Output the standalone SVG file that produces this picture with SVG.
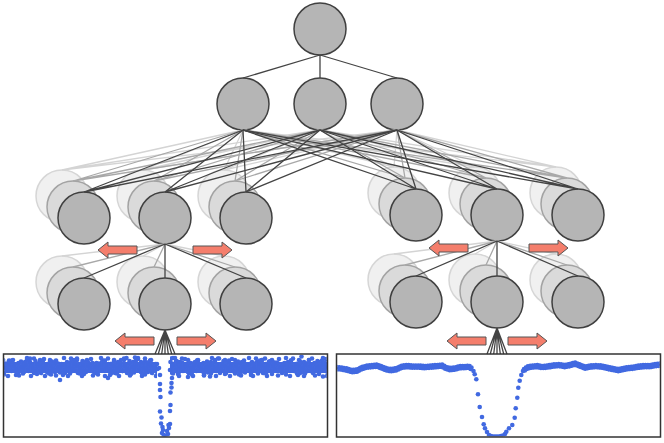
<svg xmlns="http://www.w3.org/2000/svg" width="664" height="443" viewBox="0 0 664 443">
<style>
.n{fill:#b5b5b5;stroke:#404040;stroke-width:1.5}
.m{fill:#dadada;stroke:#a3a3a3;stroke-width:1.5}
.b{fill:#f0f0f0;stroke:#d6d6d6;stroke-width:1.5}
.cf{fill:none;stroke:#444;stroke-width:1.3}
.cm{fill:none;stroke:#a8a8a8;stroke-width:1.3}
.cb{fill:none;stroke:#d4d4d4;stroke-width:1.3}
.arr{fill:#f47e6c;stroke:#555;stroke-width:1}
.frame{fill:none;stroke:#333;stroke-width:1.5}
.pt{fill:#4169e1}
.ln{fill:none;stroke:#4169e1;stroke-width:4.6;stroke-linecap:round;stroke-dasharray:0 2.4}
</style>
<defs>
<path id="arrL" class="arr" d="M0,0 L10,-8 L10,-4 L39,-4 L39,4 L10,4 L10,8 Z"/>
<path id="arrR" class="arr" d="M0,-4 L29,-4 L29,-8 L39,0 L29,8 L29,4 L0,4 Z"/>
<pattern id="pA" patternUnits="userSpaceOnUse" x="0" y="354" width="31" height="27">
<g class="pt">
<circle cx="0.5" cy="12" r="2.3"/><circle cx="31.5" cy="12" r="2.3"/><circle cx="1.5" cy="16" r="2.3"/><circle cx="32.5" cy="16" r="2.3"/>
<circle cx="4" cy="10" r="2.3"/><circle cx="5.5" cy="13" r="2.3"/><circle cx="7" cy="16" r="2.3"/><circle cx="8.5" cy="11" r="2.3"/>
<circle cx="10" cy="13.5" r="2.3"/><circle cx="11.5" cy="9" r="2.3"/><circle cx="13" cy="15" r="2.3"/><circle cx="14.5" cy="12" r="2.3"/>
<circle cx="16" cy="17" r="2.3"/><circle cx="17.5" cy="10" r="2.3"/><circle cx="19" cy="13" r="2.3"/><circle cx="20.5" cy="15" r="2.3"/>
<circle cx="22" cy="11" r="2.3"/><circle cx="23.5" cy="14" r="2.3"/><circle cx="25" cy="8" r="2.3"/><circle cx="26.5" cy="12" r="2.3"/>
<circle cx="28" cy="16" r="2.3"/><circle cx="29.5" cy="13" r="2.3"/><circle cx="-1.5" cy="13" r="2.3"/><circle cx="3" cy="19" r="2.3"/>
<circle cx="12" cy="6.5" r="2.3"/><circle cx="18" cy="19.5" r="2.3"/><circle cx="24" cy="18" r="2.3"/><circle cx="9" cy="8" r="2.3"/>
<circle cx="27" cy="9.5" r="2.3"/><circle cx="15" cy="13" r="2.3"/><circle cx="21" cy="7.5" r="2.3"/><circle cx="6" cy="9.5" r="2.3"/>
</g>
</pattern>
<pattern id="pB" patternUnits="userSpaceOnUse" x="11" y="354" width="47" height="27">
<g class="pt">
<circle cx="1" cy="13" r="2.3"/><circle cx="48" cy="13" r="2.3"/><circle cx="3.5" cy="10" r="2.3"/><circle cx="6" cy="16" r="2.3"/>
<circle cx="8" cy="12" r="2.3"/><circle cx="10.5" cy="14.5" r="2.3"/><circle cx="13" cy="9.5" r="2.3"/><circle cx="15" cy="12.5" r="2.3"/>
<circle cx="17.5" cy="17" r="2.3"/><circle cx="20" cy="11" r="2.3"/><circle cx="22" cy="14" r="2.3"/><circle cx="24.5" cy="7" r="2.3"/>
<circle cx="27" cy="13" r="2.3"/><circle cx="29" cy="16.5" r="2.3"/><circle cx="31.5" cy="11" r="2.3"/><circle cx="34" cy="13" r="2.3"/>
<circle cx="36" cy="18" r="2.3"/><circle cx="38.5" cy="9" r="2.3"/><circle cx="41" cy="14" r="2.3"/><circle cx="43.5" cy="11.5" r="2.3"/>
<circle cx="46" cy="15.5" r="2.3"/><circle cx="-1" cy="15.5" r="2.3"/><circle cx="5" cy="21" r="2.3"/><circle cx="19" cy="4.5" r="2.3"/>
<circle cx="33" cy="5" r="2.3"/><circle cx="40" cy="20.5" r="2.3"/><circle cx="12" cy="19.5" r="2.3"/><circle cx="26" cy="20" r="2.3"/>
<circle cx="45" cy="6.5" r="2.3"/><circle cx="-2" cy="6.5" r="2.3"/><circle cx="30" cy="8.5" r="2.3"/><circle cx="16" cy="6" r="2.3"/>
</g>
</pattern>
<pattern id="pC" patternUnits="userSpaceOnUse" x="5" y="354" width="37" height="27">
<g class="pt">
<circle cx="1" cy="14" r="2.3"/><circle cx="38" cy="14" r="2.3"/><circle cx="4" cy="11" r="2.3"/><circle cx="6.5" cy="17" r="2.3"/>
<circle cx="9" cy="12.5" r="2.3"/><circle cx="11" cy="15" r="2.3"/><circle cx="13.5" cy="9" r="2.3"/><circle cx="16" cy="13" r="2.3"/>
<circle cx="18" cy="18.5" r="2.3"/><circle cx="20.5" cy="11.5" r="2.3"/><circle cx="23" cy="15.5" r="2.3"/><circle cx="25" cy="8" r="2.3"/>
<circle cx="27.5" cy="13.5" r="2.3"/><circle cx="30" cy="17" r="2.3"/><circle cx="32" cy="10" r="2.3"/><circle cx="34.5" cy="12" r="2.3"/>
<circle cx="36" cy="19" r="2.3"/><circle cx="-1" cy="19" r="2.3"/><circle cx="3" cy="22" r="2.3"/><circle cx="14" cy="21.5" r="2.3"/>
<circle cx="22" cy="4" r="2.3"/><circle cx="29" cy="4.5" r="2.3"/><circle cx="8" cy="6" r="2.3"/><circle cx="35" cy="6" r="2.3"/>
<circle cx="-2" cy="6" r="2.3"/><circle cx="18" cy="14" r="2.3"/><circle cx="26" cy="22" r="2.3"/>
</g>
</pattern>
<clipPath id="clipL"><rect x="4.25" y="354.75" width="322.5" height="81.5"/></clipPath>
<clipPath id="clipR"><rect x="337.25" y="354.75" width="322.5" height="81.5"/></clipPath>
</defs>
<rect width="664" height="443" fill="#fff"/>

<!-- nodes -->
<g id="top"><circle class="n" cx="320" cy="29" r="26"/></g>
<g id="h1"><circle class="n" cx="243" cy="104" r="26"/></g>
<g id="h2"><circle class="n" cx="320" cy="104" r="26"/></g>
<g id="h3"><circle class="n" cx="397" cy="104" r="26"/></g>

<g id="a1"><circle class="b" cx="62" cy="196" r="26"/><circle class="m" cx="73" cy="207" r="26"/><circle class="n" cx="84" cy="218" r="26"/></g>
<g id="a2"><circle class="b" cx="143" cy="196" r="26"/><circle class="m" cx="154" cy="207" r="26"/><circle class="n" cx="165" cy="218" r="26"/></g>
<g id="a3"><circle class="b" cx="224" cy="196" r="26"/><circle class="m" cx="235" cy="207" r="26"/><circle class="n" cx="246" cy="218" r="26"/></g>
<g id="b1"><circle class="b" cx="394" cy="193" r="26"/><circle class="m" cx="405" cy="204" r="26"/><circle class="n" cx="416" cy="215" r="26"/></g>
<g id="b2"><circle class="b" cx="475" cy="193" r="26"/><circle class="m" cx="486" cy="204" r="26"/><circle class="n" cx="497" cy="215" r="26"/></g>
<g id="b3"><circle class="b" cx="556" cy="193" r="26"/><circle class="m" cx="567" cy="204" r="26"/><circle class="n" cx="578" cy="215" r="26"/></g>

<g id="c1"><circle class="b" cx="62" cy="282" r="26"/><circle class="m" cx="73" cy="293" r="26"/><circle class="n" cx="84" cy="304" r="26"/></g>
<g id="c2"><circle class="b" cx="143" cy="282" r="26"/><circle class="m" cx="154" cy="293" r="26"/><circle class="n" cx="165" cy="304" r="26"/></g>
<g id="c3"><circle class="b" cx="224" cy="282" r="26"/><circle class="m" cx="235" cy="293" r="26"/><circle class="n" cx="246" cy="304" r="26"/></g>
<g id="d1"><circle class="b" cx="394" cy="280" r="26"/><circle class="m" cx="405" cy="291" r="26"/><circle class="n" cx="416" cy="302" r="26"/></g>
<g id="d2"><circle class="b" cx="475" cy="280" r="26"/><circle class="m" cx="486" cy="291" r="26"/><circle class="n" cx="497" cy="302" r="26"/></g>
<g id="d3"><circle class="b" cx="556" cy="280" r="26"/><circle class="m" cx="567" cy="291" r="26"/><circle class="n" cx="578" cy="302" r="26"/></g>

<!-- connectors -->
<g id="connectors">
<path class="cf" d="M320,55L243,78M320,55L320,78M320,55L397,78"/>
<path class="cb" d="M243,130L62,170M320,130L62,170M397,130L62,170"/>
<path class="cb" d="M243,130L143,170M320,130L143,170M397,130L143,170"/>
<path class="cb" d="M243,130L224,170M320,130L224,170M397,130L224,170"/>
<path class="cb" d="M243,130L394,167M320,130L394,167M397,130L394,167"/>
<path class="cb" d="M243,130L475,167M320,130L475,167M397,130L475,167"/>
<path class="cb" d="M243,130L556,167M320,130L556,167M397,130L556,167"/>
<path class="cm" d="M243,130L73,181M320,130L73,181M397,130L73,181"/>
<path class="cm" d="M243,130L154,181M320,130L154,181M397,130L154,181"/>
<path class="cm" d="M243,130L235,181M320,130L235,181M397,130L235,181"/>
<path class="cm" d="M243,130L405,178M320,130L405,178M397,130L405,178"/>
<path class="cm" d="M243,130L486,178M320,130L486,178M397,130L486,178"/>
<path class="cm" d="M243,130L567,178M320,130L567,178M397,130L567,178"/>
<path class="cf" d="M243,130L84,192M320,130L84,192M397,130L84,192"/>
<path class="cf" d="M243,130L165,192M320,130L165,192M397,130L165,192"/>
<path class="cf" d="M243,130L246,192M320,130L246,192M397,130L246,192"/>
<path class="cf" d="M243,130L416,189M320,130L416,189M397,130L416,189"/>
<path class="cf" d="M243,130L497,189M320,130L497,189M397,130L497,189"/>
<path class="cf" d="M243,130L578,189M320,130L578,189M397,130L578,189"/>
<path class="cb" d="M165,244L62,256M165,244L143,256M165,244L224,256"/>
<path class="cm" d="M165,244L73,267M165,244L154,267M165,244L235,267"/>
<path class="cf" d="M165,244L84,278M165,244L165,278M165,244L246,278"/>
<path class="cb" d="M497,241L394,254M497,241L475,254M497,241L556,254"/>
<path class="cm" d="M497,241L405,265M497,241L486,265M497,241L567,265"/>
<path class="cf" d="M497,241L416,276M497,241L497,276M497,241L578,276"/>
<path class="cf" d="M165,330L155,354M165,330L158.3,354M165,330L161.7,354M165,330L165,354M165,330L168.3,354M165,330L171.7,354M165,330L175,354"/>
<path class="cf" d="M497,328L487,354M497,328L490.3,354M497,328L493.7,354M497,328L497,354M497,328L500.3,354M497,328L503.7,354M497,328L507,354"/>
</g>

<!-- arrows -->
<g id="arrows">
<use href="#arrL" x="98" y="250"/><use href="#arrR" x="193" y="250"/>
<use href="#arrL" x="429" y="248"/><use href="#arrR" x="529" y="248"/>
<use href="#arrL" x="115" y="341"/><use href="#arrR" x="177" y="341"/>
<use href="#arrL" x="447" y="341"/><use href="#arrR" x="508" y="341"/>
</g>

<!-- left plot -->
<g id="plotL">
<g clip-path="url(#clipL)">
<rect class="pt" x="4" y="362" width="153" height="11"/>
<rect class="pt" x="170" y="362" width="157" height="11"/>
<rect x="4" y="354" width="153" height="27" fill="url(#pA)"/>
<rect x="4" y="354" width="153" height="27" fill="url(#pB)"/>
<rect x="4" y="354" width="153" height="27" fill="url(#pC)"/>
<rect x="170" y="354" width="157" height="27" fill="url(#pA)"/>
<rect x="170" y="354" width="157" height="27" fill="url(#pB)"/>
<rect x="170" y="354" width="157" height="27" fill="url(#pC)"/>
<g class="pt">
<circle cx="60" cy="380" r="2.3"/><circle cx="108" cy="378" r="2.3"/><circle cx="188" cy="377" r="2.3"/><circle cx="210" cy="376.5" r="2.3"/>
<circle cx="301.5" cy="356.5" r="2.3"/><circle cx="323" cy="376.5" r="2.3"/><circle cx="126.5" cy="358" r="2.3"/><circle cx="135" cy="357.5" r="2.3"/>
<circle cx="157" cy="364" r="2.3"/><circle cx="157.5" cy="369" r="2.3"/><circle cx="170.5" cy="362" r="2.3"/><circle cx="170" cy="370" r="2.3"/>
<circle cx="159" cy="368" r="2.3"/><circle cx="160" cy="375" r="2.3"/><circle cx="160" cy="384" r="2.3"/><circle cx="160" cy="390" r="2.3"/>
<circle cx="160.5" cy="397" r="2.3"/><circle cx="160" cy="411.5" r="2.3"/><circle cx="161.5" cy="417.5" r="2.3"/><circle cx="161" cy="423.5" r="2.3"/>
<circle cx="162.5" cy="427" r="2.3"/><circle cx="163" cy="430" r="2.3"/><circle cx="162" cy="433" r="2.3"/><circle cx="164" cy="435" r="2.3"/>
<circle cx="166" cy="436" r="2.3"/><circle cx="168" cy="434" r="2.3"/><circle cx="167" cy="431" r="2.3"/><circle cx="169" cy="428" r="2.3"/>
<circle cx="168.5" cy="425" r="2.3"/><circle cx="170" cy="424" r="2.3"/><circle cx="170" cy="411" r="2.3"/><circle cx="170.5" cy="405" r="2.3"/>
<circle cx="170.5" cy="392.5" r="2.3"/><circle cx="171.5" cy="387.5" r="2.3"/><circle cx="171.5" cy="383" r="2.3"/><circle cx="172" cy="378" r="2.3"/>
<circle cx="173" cy="358" r="2.3"/><circle cx="165" cy="437" r="2.3"/><circle cx="163.5" cy="437" r="2.3"/>
</g>
</g>
<rect class="frame" x="3.5" y="354" width="324" height="83"/>
</g>

<!-- right plot -->
<g id="plotR">
<g clip-path="url(#clipR)">
<polyline class="ln" transform="translate(0,-1)" points="337,368 342,368.5 347,369.5 352,371 357,370.5 362,368 367,366.5 372,366 377,365.5 382,367.5 387,369.5 392,370 397,369 402,366.5 407,366 413,366.5 419,366.5 425,367 431,366.5 437,366 442,365.5 446,368 450,369 455,368.5 460,367 465,367 469,366.5 472,369"/>
<polyline class="ln" transform="translate(0,1.2)" stroke-dashoffset="1.2" points="337,368 342,368.5 347,369.5 352,371 357,370.5 362,368 367,366.5 372,366 377,365.5 382,367.5 387,369.5 392,370 397,369 402,366.5 407,366 413,366.5 419,366.5 425,367 431,366.5 437,366 442,365.5 446,368 450,369 455,368.5 460,367 465,367 469,366.5 472,369"/>
<polyline class="ln" transform="translate(0,-1)" points="524,370 527,367.5 532,366.5 537,366 542,367 547,366.5 553,365.5 559,365 565,366 570,365 575,363.5 580,365.5 585,367.5 590,366.5 596,366 602,366.5 608,368 613,369 618,370 623,369 628,368 634,367.5 639,366.5 644,366 650,366 655,365 660,364.5"/>
<polyline class="ln" transform="translate(0,1.2)" stroke-dashoffset="1.2" points="524,370 527,367.5 532,366.5 537,366 542,367 547,366.5 553,365.5 559,365 565,366 570,365 575,363.5 580,365.5 585,367.5 590,366.5 596,366 602,366.5 608,368 613,369 618,370 623,369 628,368 634,367.5 639,366.5 644,366 650,366 655,365 660,364.5"/>
<g class="pt">
<circle cx="473.5" cy="371" r="2.3"/><circle cx="474.7" cy="374.3" r="2.3"/><circle cx="476.3" cy="379.3" r="2.3"/><circle cx="478" cy="394.3" r="2.3"/>
<circle cx="479.7" cy="407" r="2.3"/><circle cx="482" cy="417" r="2.3"/><circle cx="483.7" cy="424.3" r="2.3"/><circle cx="485" cy="428.3" r="2.3"/>
<circle cx="487" cy="432" r="2.3"/><circle cx="489" cy="435" r="2.3"/><circle cx="491" cy="436" r="2.3"/><circle cx="493" cy="436.5" r="2.3"/>
<circle cx="495" cy="436.5" r="2.3"/><circle cx="497" cy="436.5" r="2.3"/><circle cx="499" cy="436.5" r="2.3"/><circle cx="501" cy="436" r="2.3"/>
<circle cx="503" cy="435.5" r="2.3"/><circle cx="505" cy="434" r="2.3"/><circle cx="506.3" cy="431.7" r="2.3"/><circle cx="509" cy="428.3" r="2.3"/>
<circle cx="512.3" cy="425" r="2.3"/><circle cx="514.7" cy="417.7" r="2.3"/><circle cx="515.7" cy="408.3" r="2.3"/><circle cx="517.3" cy="397.7" r="2.3"/>
<circle cx="518.3" cy="387.7" r="2.3"/><circle cx="519.7" cy="380.7" r="2.3"/><circle cx="521.3" cy="375" r="2.3"/><circle cx="523" cy="371" r="2.3"/>
</g>
</g>
<rect class="frame" x="336.5" y="354" width="324" height="83"/>
</g>
</svg>
